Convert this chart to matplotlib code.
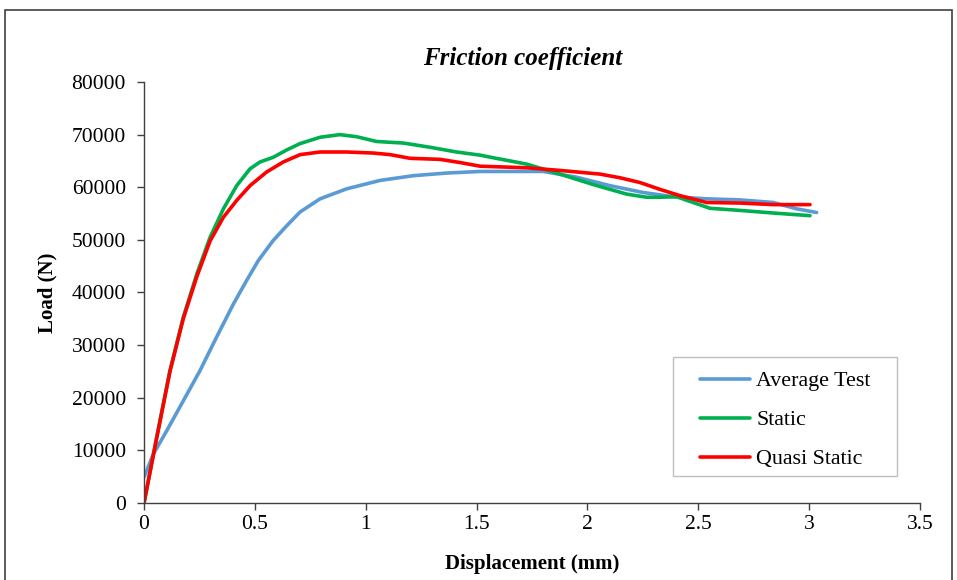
import matplotlib.pyplot as plt
from matplotlib.patches import Rectangle

plt.rcParams['font.family'] = ['Liberation Serif', 'DejaVu Serif']

# --- data ---
avg_x = [0.0, 0.042, 0.102, 0.177, 0.253, 0.327, 0.403, 0.463, 0.516, 0.583, 0.644, 0.704,
         0.794, 0.914, 1.065, 1.215, 1.365, 1.516, 1.651, 1.801, 1.952, 2.102, 2.252, 2.388,
         2.538, 2.688, 2.839, 2.944, 3.034]
avg_y = [4900, 9300, 13700, 19400, 25200, 31500, 37800, 42300, 46100, 49900, 52700, 55300,
         57800, 59700, 61300, 62200, 62700, 63000, 63000, 63000, 61900, 60300, 59000, 58200,
         57800, 57600, 57100, 55900, 55200]

static_x = [0.0, 0.057, 0.117, 0.177, 0.238, 0.298, 0.358, 0.418, 0.478, 0.523, 0.583, 0.644,
            0.704, 0.794, 0.884, 0.959, 1.049, 1.170, 1.29, 1.41, 1.516, 1.576, 1.726, 1.876,
            2.027, 2.177, 2.267, 2.327, 2.402, 2.477, 2.553, 2.688, 2.839, 3.004]
static_y = [0, 12500, 25200, 35300, 43500, 50500, 55900, 60300, 63500, 64800, 65700, 67100,
            68300, 69500, 70000, 69600, 68700, 68400, 67600, 66700, 66100, 65600, 64400, 62500,
            60500, 58700, 58100, 58100, 58200, 57100, 56000, 55600, 55100, 54600]

quasi_x = [0.0, 0.057, 0.117, 0.177, 0.238, 0.298, 0.358, 0.418, 0.478, 0.553, 0.628, 0.704,
           0.794, 0.914, 1.034, 1.11, 1.2, 1.335, 1.425, 1.516, 1.726, 1.876, 2.057, 2.147,
           2.237, 2.327, 2.418, 2.538, 2.688, 2.839, 3.004]
quasi_y = [0, 12300, 25000, 35000, 43000, 49800, 54300, 57500, 60300, 62900, 64800, 66200,
           66700, 66700, 66500, 66200, 65500, 65300, 64700, 64000, 63700, 63200, 62500, 61800,
           60900, 59600, 58400, 57100, 57000, 56700, 56700]

labels = ['Average Test', 'Static', 'Quasi Static']
colors = ['#5b9bd5', '#00b050', '#ff0000']

fig = plt.figure(figsize=(9.57, 5.8), dpi=100)
ax = fig.add_axes([0.1505, 0.1328, 0.8108, 0.7258])

ax.plot(avg_x, avg_y, color=colors[0], lw=2.6, label=labels[0], solid_capstyle='round', solid_joinstyle='round')
ax.plot(static_x, static_y, color=colors[1], lw=2.6, label=labels[1], solid_capstyle='round', solid_joinstyle='round')
ax.plot(quasi_x, quasi_y, color=colors[2], lw=2.6, label=labels[2], solid_capstyle='round', solid_joinstyle='round')

ax.set_xlim(0, 3.5)
ax.set_ylim(0, 80000)
ax.set_xticks([0, 0.5, 1, 1.5, 2, 2.5, 3, 3.5])
ax.set_xticklabels(['0', '0.5', '1', '1.5', '2', '2.5', '3', '3.5'])
ax.set_yticks(range(0, 80001, 10000))

for s in ['top', 'right']:
    ax.spines[s].set_visible(False)
for s in ['left', 'bottom']:
    ax.spines[s].set_color('#404040')
    ax.spines[s].set_linewidth(1.0)
ax.tick_params(direction='out', length=5, width=1, color='#404040', labelsize=15.5)
ax.tick_params(axis='x', pad=4)
ax.tick_params(axis='y', pad=8)

ax.set_xlabel('Displacement (mm)', fontsize=15, fontweight='bold', labelpad=14)
ax.set_ylabel('Load (N)', fontsize=15, fontweight='bold', labelpad=10)
ax.set_title('Friction coefficient', fontsize=18, fontweight='bold', style='italic',
             pad=12, x=0.488)

# legend without its own frame, box drawn separately to get the wide side padding
leg = ax.legend(loc='upper left', bbox_to_anchor=(0.7165, 0.3135), fontsize=15.8,
                frameon=False, handlelength=2.3, borderpad=0,
                labelspacing=0.85, handletextpad=0.27, borderaxespad=0)
ax.add_patch(Rectangle((0.6817, 0.0641), 0.2887, 0.2827, transform=ax.transAxes,
                       fill=False, edgecolor='#bfbfbf', lw=1.0, zorder=4))

# outer border of the chart area
fig.patches.append(Rectangle((5 / 957, -0.1), 947 / 957, 1.1 - 10 / 580,
                             transform=fig.transFigure, fill=False,
                             edgecolor='#404040', lw=1.2))

fig.savefig('out.png', dpi=100)
